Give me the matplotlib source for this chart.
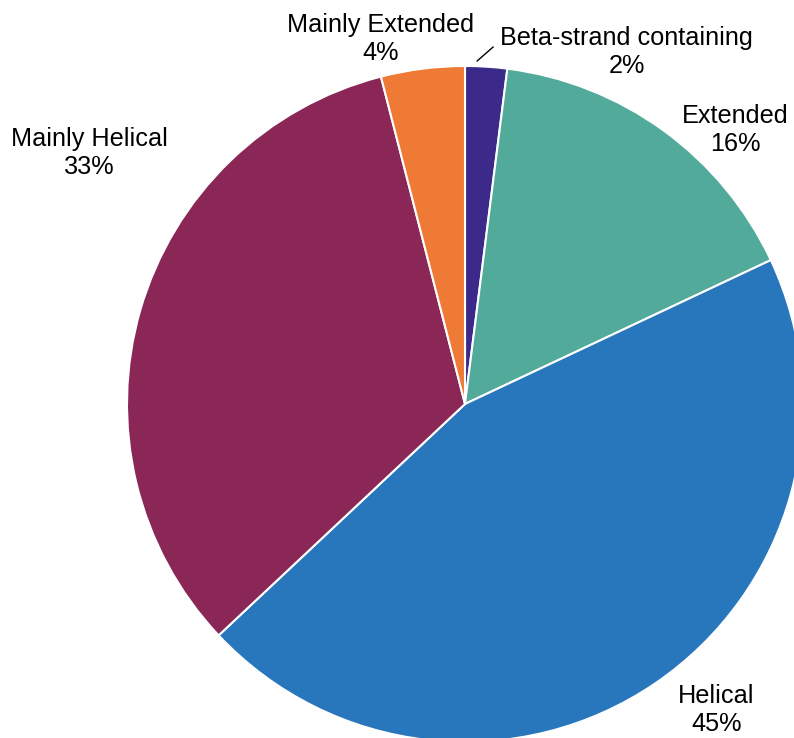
import matplotlib.pyplot as plt

plt.rcParams['font.family'] = ['Liberation Sans', 'DejaVu Sans']

categories = ['Beta-strand containing', 'Extended', 'Helical',
              'Mainly Helical', 'Mainly Extended']
shares = [2, 16, 45, 33, 4]
colors = ['#3b2a8a', '#52aa9a', '#2877bc', '#8a2757', '#ee7a35']

# label anchor points (data units, pie radius = 1)
label_pos = [(0.479, 1.041), (0.800, 0.811), (0.743, -0.905),
             (-1.112, 0.742), (-0.249, 1.080)]

fig = plt.figure(figsize=(7.94, 7.38), dpi=100)
ax = fig.add_axes([0, 0, 1, 1])

ax.pie(shares, colors=colors, startangle=90, counterclock=False,
       radius=1.0, wedgeprops=dict(edgecolor='white', linewidth=1.5))

for name, val, (x, y) in zip(categories, shares, label_pos):
    ax.text(x, y, f'{name}\n{val}%', ha='center', va='center',
            fontsize=18.2, linespacing=1.22, color='black')

# leader line for the thin slice
ax.plot([0.036, 0.083], [1.015, 1.056], color='black', lw=1)

ax.set_xlim(-465 / 338, (794 - 465) / 338)
ax.set_ylim(-(738 - 404) / 338, 404 / 338)
ax.set_aspect('equal')
ax.axis('off')

fig.savefig('out.png', dpi=100)
